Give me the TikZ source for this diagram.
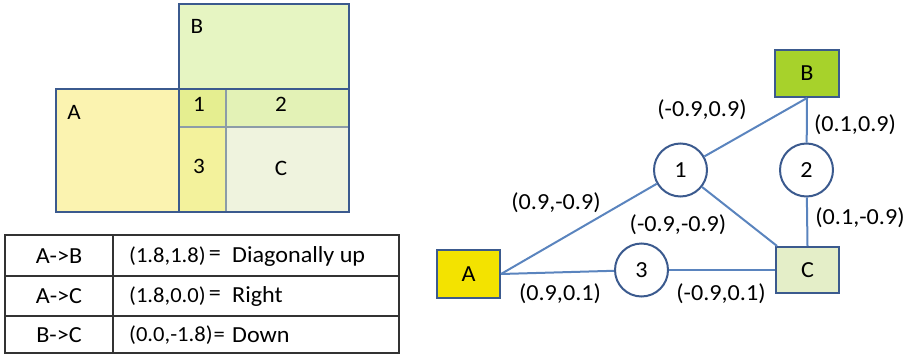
\documentclass[tikz,border=0pt]{standalone}
\usepackage{fontspec}
\setmainfont{Carlito}[FakeStretch=1.05]
\definecolor{bord}{HTML}{3B5A8E}
\definecolor{edgec}{HTML}{5A84BE}
\definecolor{fA}{HTML}{FBF3B0}
\definecolor{fB}{HTML}{E6F5C2}
\definecolor{fone}{HTML}{E5EE90}
\definecolor{ftwo}{HTML}{E3F2B6}
\definecolor{fthree}{HTML}{F3F29C}
\definecolor{fC}{HTML}{EFF3DE}
\definecolor{divc}{HTML}{8C9CA8}
\definecolor{gA}{HTML}{F3E300}
\definecolor{gB}{HTML}{A7D22B}
\definecolor{gC}{HTML}{E4EEC8}
\definecolor{tblc}{HTML}{333333}
\begin{document}
\begin{tikzpicture}[x=1pt,y=-1pt,
  lbl/.style={inner sep=0pt, font=\fontsize{22}{26}\selectfont},
  tup/.style={inner sep=0pt, anchor=west, font=\fontsize{21.5}{26}\selectfont},
  tlbl/.style={inner sep=0pt, font=\fontsize{23}{27}\selectfont},
  glbl/.style={inner sep=0pt, font=\fontsize{23}{27}\selectfont},
  gbox/.style={draw=bord, line width=2pt, inner sep=0pt, font=\fontsize{23}{27}\selectfont},
  gcirc/.style={circle, draw=bord, line width=2pt, fill=white, minimum size=53pt, inner sep=0pt, font=\fontsize{23}{27}\selectfont},
  gedge/.style={edgec, line width=2pt},
  tline/.style={tblc, line width=1.4pt}]
\useasboundingbox (0,0) rectangle (911,359);
% left overlapping rectangles
\fill[fA] (56,89) rectangle (179,212);
\fill[fB] (179,4) rectangle (349,89);
\fill[fone] (179,89) rectangle (226,127);
\fill[ftwo] (226,89) rectangle (349,127);
\fill[fthree] (179,127) rectangle (226,212);
\fill[fC] (226,127) rectangle (349,212);
\draw[divc, line width=1.5pt] (226,89) -- (226,212);
\draw[divc, line width=1.5pt] (179,127) -- (349,127);
\draw[bord, line width=2pt] (56,89) rectangle (179,212);
\draw[bord, line width=2pt] (179,4) rectangle (349,89);
\draw[bord, line width=2pt] (179,89) rectangle (349,212);
\node[lbl] (lB) at (197,26) {B};
\node[lbl] (lA) at (74,112) {A};
\node[lbl] (l1) at (199,104) {1};
\node[lbl] (l2) at (281,104) {2};
\node[lbl] (l3) at (199,166) {3};
\node[lbl] (lC) at (281,168) {C};
% table
\draw[tline] (5,235) rectangle (399,353);
\draw[tline] (5,276) -- (399,276);
\draw[tline] (5,316) -- (399,316);
\draw[tline] (113,235) -- (113,353);
\node[tlbl] (r1a) at (59,256) {A->B};
\node[tlbl] (r2a) at (59,296) {A->C};
\node[tlbl] (r3a) at (59,335) {B->C};
\node[tup] (r1b) at (129,256) {(1.8,1.8)};
\node[tlbl] (r1e) at (215,256) {=};
\node[tlbl, anchor=west] (r1c) at (232,256) {Diagonally up};
\node[tup] (r2b) at (129,296) {(1.8,0.0)};
\node[tlbl] (r2e) at (215,296) {=};
\node[tlbl, anchor=west] (r2c) at (232,296) {Right};
\node[tup] (r3b) at (129,335) {(0.0,-1.8)\kern1pt=};
\node[tlbl, anchor=west] (r3c) at (232,335) {Down};
% graph
\node[gbox, fill=gA, minimum width=63pt, minimum height=48pt] (A) at (468.5,274) {A};
\node[gbox, fill=gB, minimum width=64pt, minimum height=47pt] (B) at (807,73.5) {B};
\node[gbox, fill=gC, minimum width=63pt, minimum height=46pt] (C) at (807.5,270) {C};
\node[gcirc] (n1) at (680.5,170) {1};
\node[gcirc] (n2) at (806.5,170) {2};
\node[gcirc] (n3) at (641.5,270) {3};
\draw[gedge] (A.east) -- (n1);
\draw[gedge] (n1) -- (B.south);
\draw[gedge] (n1) -- (C);
\draw[gedge] (B.south) -- (n2);
\draw[gedge] (n2) -- (C.north);
\draw[gedge] (A.east) -- (n3);
\draw[gedge] (n3) -- (C);
\node[glbl] (e1) at (702,110) {(-0.9,0.9)};
\node[glbl] (e2) at (855,125) {(0.1,0.9)};
\node[glbl] (e3) at (556,203) {(0.9,-0.9)};
\node[glbl] (e4) at (678,225) {(-0.9,-0.9)};
\node[glbl] (e5) at (860,218) {(0.1,-0.9)};
\node[glbl] (e6) at (560,294) {(0.9,0.1)};
\node[glbl] (e7) at (721,294) {(-0.9,0.1)};
\end{tikzpicture}
\end{document}
